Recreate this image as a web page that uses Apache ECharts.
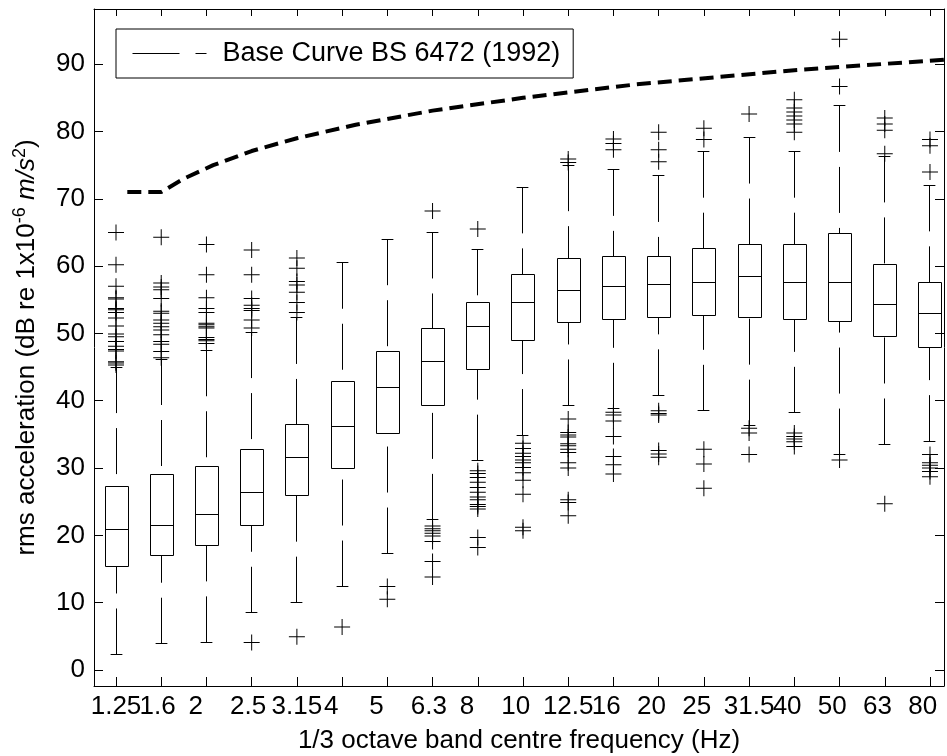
<!DOCTYPE html>
<html>
<head>
<meta charset="utf-8">
<script src="https://cdn.jsdelivr.net/npm/echarts@6/dist/echarts.min.js"></script>
<style>html,body{margin:0;padding:0;background:#fff}#c{width:947px;height:756px}</style>
</head>
<body>
<div id="c"></div>
<script>
// ---- data ----
const categories = ['1.25','1.6','2','2.5','3.15','4','5','6.3','8','10','12.5','16','20','25','31.5','40','50','63','80'];
const whiskerLow  = [2.3, 3.9, 4.1, 8.5, 10.0, 12.4, 17.3, 22.3, 31.1, 34.9, 39.3, 38.8, 40.8, 38.5, 36.3, 38.2, 32.0, 33.5, 34.0];
const quartile1   = [15.3, 17.0, 18.5, 21.4, 25.9, 30.0, 35.2, 39.3, 44.6, 49.0, 51.6, 52.0, 52.3, 52.6, 52.3, 52.0, 51.7, 49.6, 47.9];
const medians     = [20.9, 21.4, 23.1, 26.4, 31.5, 36.2, 42.0, 45.8, 51.1, 54.6, 56.4, 57.0, 57.3, 57.6, 58.5, 57.6, 57.6, 54.3, 52.9];
const quartile3   = [27.2, 29.1, 30.2, 32.8, 36.4, 42.9, 47.3, 50.8, 54.6, 58.8, 61.2, 61.4, 61.4, 62.6, 63.2, 63.2, 64.9, 60.3, 57.5];
const whiskerHigh = [45.0, 46.2, 47.5, 50.2, 52.3, 60.5, 64.0, 65.0, 62.5, 71.7, 75.0, 74.3, 73.4, 77.0, 79.1, 77.0, 83.8, 76.3, 72.0];
const outliers = [
  [65.0, 60.2, 57.0, 55.3, 55.1, 53.7, 53.5, 53.1, 52.3, 51.1, 49.9, 49.5, 48.8, 48.1, 47.6, 47.4, 45.8, 45.6, 45.3],
  [64.3, 57.5, 56.9, 56.5, 55.2, 53.3, 53.0, 52.0, 51.5, 51.0, 50.5, 49.8, 48.8, 48.4, 47.3, 46.4],
  [63.2, 58.7, 55.3, 53.7, 53.1, 51.5, 51.3, 51.0, 50.8, 49.4, 49.1, 48.9, 48.5],
  [62.4, 58.7, 55.2, 54.2, 53.7, 53.4, 52.0, 50.8, 4.1],
  [61.2, 59.7, 57.7, 57.2, 56.1, 54.6, 53.1, 4.95],
  [6.4],
  [12.4, 10.5],
  [68.2, 21.4, 21.0, 20.7, 20.3, 19.9, 19.1, 16.1, 13.8],
  [65.5, 29.6, 29.2, 28.6, 27.9, 27.1, 26.4, 25.7, 25.3, 24.6, 24.3, 23.9, 19.7, 18.2],
  [33.7, 32.9, 32.2, 31.7, 31.2, 30.8, 30.1, 29.3, 28.2, 26.1, 21.2, 20.7],
  [75.9, 75.4, 37.3, 35.3, 34.9, 34.6, 33.6, 33.3, 32.8, 32.3, 30.8, 30.0, 25.3, 24.9, 22.9],
  [78.9, 78.2, 77.3, 38.3, 37.9, 37.0, 34.7, 31.7, 30.5, 29.1],
  [79.9, 77.3, 75.5, 38.5, 38.1, 37.9, 32.6, 32.1, 31.6],
  [80.5, 78.8, 32.8, 30.6, 27.0],
  [82.6, 35.9, 35.2, 32.0],
  [84.7, 83.5, 82.9, 82.3, 81.7, 81.1, 79.9, 35.2, 34.7, 34.3, 33.9, 33.2],
  [93.7, 86.7, 31.2],
  [82.0, 81.1, 80.2, 76.7, 24.7],
  [78.8, 77.9, 74.0, 32.0, 30.8, 30.4, 30.0, 29.5, 28.7]
];
// base curve: frequency (plotted on the box-index scale, as in the original) and level in dB
const baseCurveFreq = [1.25, 1.6, 2, 2.5, 3.15, 4, 5, 6.3, 8, 10, 12.5, 16, 20, 25];
const baseCurveDb   = [71.0, 71.0, 71.0, 73.0, 75.0, 77.1, 79.0, 81.0, 83.1, 85.0, 87.0, 89.1, 91.0, 93.0];
const yTicks = [0, 10, 20, 30, 40, 50, 60, 70, 80, 90];
const legendName = 'Base Curve BS 6472 (1992)';

// ---- build ----
const FONT = '"Liberation Sans", Arial, Helvetica, sans-serif';
const FS = 26;
const positions = categories.map((c, i) => i + 1);
const boxRows = positions.map((p, i) => [p, whiskerLow[i], quartile1[i], medians[i], quartile3[i], whiskerHigh[i]]);
const outlierPts = [];
outliers.forEach((list, i) => list.forEach(v => outlierPts.push([positions[i], v])));
const curvePts = baseCurveFreq.map((f, i) => [f, baseCurveDb[i]]);

const X_MIN = 0.5135, X_MAX = 19.31;
const Y_MIN = -2.38, Y_MAX = 98.2;
const BOX_HALF = 0.255, CAP_HALF = 0.13;
const crisp = v => Math.round(v - 0.5) + 0.5;
// edge guard values (empty label / tick hidden under the frame) so that no real label is dropped
const xGuarded = [X_MIN + 0.001].concat(positions, [X_MAX - 0.001]);
const xLabel = v => {
  const i = Math.round(v) - 1;
  return (Math.abs(v - Math.round(v)) < 1e-6 && categories[i] != null) ? categories[i].padEnd(4, ' ') : '';
};

function renderBox(params, api) {
  const x = api.value(0);
  const pLo = api.coord([x, api.value(1)]);
  const pQ1 = api.coord([x, api.value(2)]);
  const pMed = api.coord([x, api.value(3)]);
  const pQ3 = api.coord([x, api.value(4)]);
  const pHi = api.coord([x, api.value(5)]);
  const hw = api.size([BOX_HALF, 0])[0];
  const cw = api.size([CAP_HALF, 0])[0];
  const cx = crisp(pMed[0]);
  const stroke = {stroke: '#000', lineWidth: 1, fill: null};
  const dashed = {stroke: '#000', lineWidth: 1, fill: null, lineDash: [46, 15]};
  const L = Math.round(cx - hw) + 0.5, R = Math.round(cx + hw) + 0.5;
  return {
    type: 'group',
    children: [
      {type: 'line', shape: {x1: cx, y1: pHi[1], x2: cx, y2: pQ3[1]}, style: dashed},
      {type: 'line', shape: {x1: cx, y1: pLo[1], x2: cx, y2: pQ1[1]}, style: dashed},
      {type: 'line', shape: {x1: cx - cw, y1: crisp(pHi[1]), x2: cx + cw, y2: crisp(pHi[1])}, style: stroke},
      {type: 'line', shape: {x1: cx - cw, y1: crisp(pLo[1]), x2: cx + cw, y2: crisp(pLo[1])}, style: stroke},
      {type: 'rect', shape: {x: L, y: crisp(pQ3[1]), width: R - L, height: crisp(pQ1[1]) - crisp(pQ3[1])}, style: stroke},
      {type: 'line', shape: {x1: L, y1: crisp(pMed[1]), x2: R, y2: crisp(pMed[1])}, style: stroke}
    ]
  };
}

const tickCommon = {show: true, inside: true, length: 9, lineStyle: {color: '#000', width: 1}};
const chart = echarts.init(document.getElementById('c'), null, {renderer: 'canvas'});
chart.setOption({
  animation: false,
  backgroundColor: '#fff',
  textStyle: {fontFamily: FONT},
  grid: {left: 94, right: 3, top: 9, bottom: 70, containLabel: false, outerBoundsMode: 'none'},
  legend: {
    left: 116, top: 29,
    padding: [11, 13, 11, 16],
    borderColor: '#000', borderWidth: 1,
    itemWidth: 74, itemHeight: 14,
    lineStyle: {width: 1, type: [47, 16], color: '#000'},
    itemStyle: {opacity: 0, borderWidth: 0},
    textStyle: {fontSize: 27, fontFamily: FONT, color: '#000', padding: [0, 0, 0, 11], lineHeight: 25},
    data: [legendName]
  },
  xAxis: [{
    type: 'value', min: X_MIN, max: X_MAX, position: 'bottom',
    axisLine: {show: true, onZero: false, lineStyle: {color: '#000', width: 1}},
    axisTick: Object.assign({customValues: xGuarded}, tickCommon),
    axisLabel: {customValues: xGuarded, fontSize: FS, fontFamily: FONT, color: '#000', margin: 8,
      hideOverlap: false, showMinLabel: false, showMaxLabel: false,
      formatter: xLabel},
    splitLine: {show: false},
    name: '1/3 octave band centre frequency (Hz)', nameLocation: 'middle', nameGap: 42,
    nameTextStyle: {fontSize: FS, fontFamily: FONT, color: '#000'}
  }, {
    type: 'value', min: X_MIN, max: X_MAX, position: 'top',
    axisLine: {show: true, onZero: false, lineStyle: {color: '#000', width: 1}},
    axisTick: Object.assign({customValues: positions}, tickCommon, {length: 7}),
    axisLabel: {show: false}, splitLine: {show: false}
  }],
  yAxis: [{
    type: 'value', min: Y_MIN, max: Y_MAX, position: 'left',
    axisLine: {show: true, onZero: false, lineStyle: {color: '#000', width: 1}},
    axisTick: Object.assign({customValues: yTicks}, tickCommon),
    axisLabel: {customValues: yTicks, fontSize: FS, fontFamily: FONT, color: '#000', margin: 9,
      hideOverlap: false, showMinLabel: true, showMaxLabel: true},
    splitLine: {show: false},
    name: '{t|rms acceleration (dB re 1x10}{s|-6}{t| }{i|m/s}{s|2}{t|)}',
    nameLocation: 'middle', nameGap: 52,
    nameTextStyle: {
      fontSize: FS, fontFamily: FONT, color: '#000',
      rich: {
        t: {fontSize: FS, fontFamily: FONT, color: '#000'},
        i: {fontSize: FS, fontFamily: FONT, color: '#000', fontStyle: 'italic'},
        s: {fontSize: 18, fontFamily: FONT, color: '#000', padding: [0, 0, 13, 0]}
      }
    }
  }, {
    type: 'value', min: Y_MIN, max: Y_MAX, position: 'right',
    axisLine: {show: true, onZero: false, lineStyle: {color: '#000', width: 1}},
    axisTick: Object.assign({customValues: yTicks}, tickCommon),
    axisLabel: {show: false}, splitLine: {show: false}
  }],
  series: [
    {
      type: 'custom', name: 'boxes', xAxisIndex: 0, yAxisIndex: 0,
      renderItem: renderBox, data: boxRows,
      encode: {x: 0, y: [1, 2, 3, 4, 5]}, silent: true, z: 2
    },
    {
      type: 'scatter', name: 'outliers', xAxisIndex: 0, yAxisIndex: 0,
      data: outlierPts,
      symbol: 'path://M0,7.5H16V8.5H0Z M7.5,0H8.5V16H7.5Z', symbolSize: 16,
      itemStyle: {color: '#000', opacity: 1}, silent: true, z: 3
    },
    {
      type: 'line', name: legendName, xAxisIndex: 0, yAxisIndex: 0,
      data: curvePts, symbol: 'none', showSymbol: false, clip: true,
      lineStyle: {color: '#000', width: 4, type: [14, 7]},
      itemStyle: {color: '#000'}, silent: true, z: 4
    }
  ]
});
</script>
</body>
</html>
